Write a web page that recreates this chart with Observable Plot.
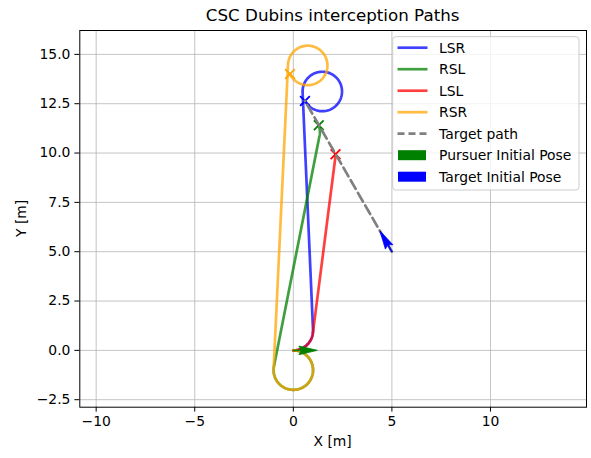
<!DOCTYPE html>
<html><head><meta charset="utf-8">
<script src="https://cdn.jsdelivr.net/npm/d3@7"></script>
<script src="https://cdn.jsdelivr.net/npm/@observablehq/plot@0.6"></script>
<style>body{margin:0;background:#fff;} svg{display:block;}</style>
</head><body><div id="chart"></div>
<script>
// ---- data ----
const pathNames = ["LSR", "RSL", "LSL", "RSR"];
const pathColors = ["blue", "green", "red", "orange"];
const turnRadius = 1;
// first turn (around the pursuer's start circle)
const arc1CenterX = [0, 0, 0, 0];
const arc1CenterY = [1, -1, 1, -1];
const arc1StartDeg = [-90, 90, -90, 90];
const arc1EndDeg = [2.5, -191.2, -7.3, -182.7];
// final turn (ending at the interception point)
const arc2CenterX = [1.47, 0.348, 1.144, 0.73];
const arc2CenterY = [13.12, 11.068, 9.94, 14.44];
const arc2StartDeg = [182.5, -11.2, -7.3, 177.3];
const arc2EndDeg = [-151.4, 20, 0, -154.7];
// interception points
const interceptX = [0.59, 1.29, 2.14, -0.17];
const interceptY = [12.64, 11.41, 9.94, 14.01];
// target path
const targetPathX = [5, 0.59];
const targetPathY = [5, 12.64];
// initial poses
const poseNames = ["Pursuer Initial Pose", "Target Initial Pose"];
const poseX = [0, 5];
const poseY = [0, 5];
const poseHeadingDeg = [0, 120];
const poseColors = ["green", "blue"];
// ticks
const xTicks = [-10, -5, 0, 5, 10];
const yTicks = [-2.5, 0, 2.5, 5, 7.5, 10, 12.5, 15];

// ---- build geometry ----
const rad = d => d * Math.PI / 180;
function arcPoints(cx, cy, a0, a1) {
  const n = Math.max(2, Math.ceil(Math.abs(a1 - a0) / 2));
  const pts = [];
  for (let i = 0; i <= n; i++) {
    const a = rad(a0 + (a1 - a0) * i / n);
    pts.push([cx + turnRadius * Math.cos(a), cy + turnRadius * Math.sin(a)]);
  }
  return pts;
}
const routes = [];
pathNames.forEach((name, i) => {
  const pts = arcPoints(arc1CenterX[i], arc1CenterY[i], arc1StartDeg[i], arc1EndDeg[i])
    .concat(arcPoints(arc2CenterX[i], arc2CenterY[i], arc2StartDeg[i], arc2EndDeg[i]));
  pts.forEach(([x, y], k) => routes.push({name, x, y, k}));
});
const intercepts = pathNames.map((name, i) => ({name, x: interceptX[i], y: interceptY[i]}));
const target = targetPathX.map((x, i) => ({x, y: targetPathY[i]}));
// arrow outline (along, across) in data units: short shaft + notched head
const headShape = [[0, -0.02], [0.4, -0.02], [0.28, -0.22], [1.22, 0], [0.28, 0.22], [0.4, 0.02], [0, 0.02], [0, -0.02]];
const arrows = [];
poseNames.forEach((name, i) => {
  const h = rad(poseHeadingDeg[i]);
  headShape.forEach(([a, c]) => arrows.push({
    name,
    x: poseX[i] + a * Math.cos(h) - c * Math.sin(h),
    y: poseY[i] + a * Math.sin(h) + c * Math.cos(h)
  }));
});

const W = 591, H = 458;
const mL = 79.3, mR = 5, mT = 30, mB = 51.3;
const FS = 13.9;

const marks = [
  Plot.gridX(xTicks, {stroke: "#b0b0b0", strokeOpacity: 0.75, strokeWidth: 1}),
  Plot.gridY(yTicks, {stroke: "#b0b0b0", strokeOpacity: 0.75, strokeWidth: 1}),
];
pathNames.forEach((name, i) => {
  marks.push(Plot.line(routes.filter(d => d.name === name), {x: "x", y: "y", stroke: pathColors[i], strokeWidth: 2.7, strokeOpacity: 0.75, curve: "linear"}));
  marks.push(Plot.dot(intercepts.filter(d => d.name === name), {x: "x", y: "y", symbol: "times", r: 4.5, stroke: pathColors[i], strokeWidth: 1.8}));
});
marks.push(Plot.line(target, {x: "x", y: "y", stroke: "gray", strokeWidth: 2.7, strokeDasharray: "10,4.5"}));
poseNames.forEach((name, i) => {
  marks.push(Plot.line(arrows.filter(d => d.name === name), {x: "x", y: "y", fill: poseColors[i], stroke: poseColors[i], strokeWidth: 0.8}));
});
marks.push(Plot.axisX({ticks: xTicks, tickFormat: d3.format("d"), tickSize: 4.9, tickPadding: 4.5, fontSize: FS, label: null, color: "black"}));
marks.push(Plot.axisY({ticks: yTicks, tickFormat: d3.format(".1f"), tickSize: 4.9, tickPadding: 4.5, fontSize: FS, label: null, color: "black"}));
marks.push(Plot.frame({stroke: "black", strokeWidth: 1}));

const svg = Plot.plot({
  width: W, height: H,
  marginLeft: mL, marginRight: mR, marginTop: mT, marginBottom: mB,
  x: {domain: [-10.83, 14.87]},
  y: {domain: [-2.88, 16.21]},
  style: {fontFamily: "DejaVu Sans", fontSize: FS + "px", background: "white", color: "black"},
  marks
});

const s = d3.select(svg);
// title and axis labels
s.append("text").attr("x", (mL + W - mR) / 2).attr("y", 21).attr("text-anchor", "middle")
  .attr("font-size", 16.7).attr("fill", "black").text("CSC Dubins interception Paths");
s.append("text").attr("x", (mL + W - mR) / 2).attr("y", 446).attr("text-anchor", "middle")
  .attr("font-size", FS).attr("fill", "black").text("X [m]");
s.append("text").attr("transform", `translate(25.5,${(mT + H - mB) / 2}) rotate(-90)`).attr("text-anchor", "middle")
  .attr("font-size", FS).attr("fill", "black").text("Y [m]");

// legend
const lg = s.append("g").attr("text-anchor", "start");
lg.append("rect").attr("x", 392.7).attr("y", 36.7).attr("width", 186.3).attr("height", 153.3).attr("rx", 3)
  .attr("fill", "white").attr("fill-opacity", 0.8).attr("stroke", "#cccccc").attr("stroke-width", 1);
const rowY = i => 47.7 + i * 21.5;
const addLabel = (i, name) => lg.append("text").attr("x", 439).attr("y", rowY(i)).attr("dy", "0.36em")
  .attr("text-anchor", "start").attr("font-size", FS).attr("fill", "black").text(name);
pathNames.forEach((name, i) => {
  lg.append("line").attr("x1", 397.5).attr("x2", 427.5).attr("y1", rowY(i)).attr("y2", rowY(i))
    .attr("stroke", pathColors[i]).attr("stroke-opacity", 0.75).attr("stroke-width", 2.7);
  addLabel(i, name);
});
lg.append("line").attr("x1", 397.5).attr("x2", 427.5).attr("y1", rowY(4)).attr("y2", rowY(4))
  .attr("stroke", "gray").attr("stroke-width", 2.7).attr("stroke-dasharray", "7,4");
addLabel(4, "Target path");
poseNames.forEach((name, i) => {
  lg.append("rect").attr("x", 398).attr("y", rowY(5 + i) - 5).attr("width", 28).attr("height", 10).attr("fill", poseColors[i]);
  addLabel(5 + i, name);
});

document.getElementById("chart").appendChild(svg);
</script>
</body></html>
